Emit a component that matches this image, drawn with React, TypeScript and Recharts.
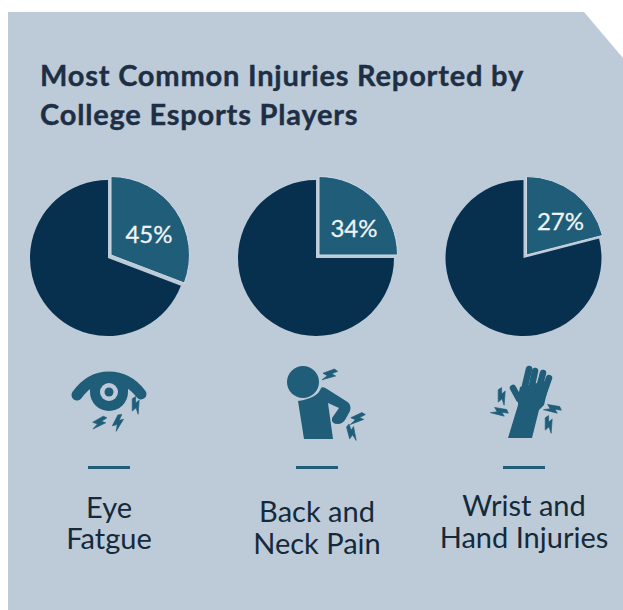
import { PieChart, Pie, Cell } from "recharts";

const PANEL = "#bdcbd9";
const DARK = "#06304d";
const TEAL = "#205d79";
const TITLE = "#1e2f45";

// drawn wedge share of each pie (the printed labels don't match the drawn angle)
const wedgeShares = [30.8, 25, 21];
const percentLabels = ["45%", "34%", "27%"];
const categoryLines = [
  ["Eye", "Fatgue"],
  ["Back and", "Neck Pain"],
  ["Wrist and", "Hand Injuries"],
];

// layout
const pieCenters = [108, 316, 523.5];
const iconCenters = [109, 317, 524];
const wedgeShift = 3;
const labelOffsets = [
  [38, -22],
  [35, -28],
  [34, -35],
];
const categoryBaselines = [
  [518, 549],
  [522, 554],
  [516, 548],
];

const pieData = wedgeShares.map((w) => [
  { name: "wedge", value: w },
  { name: "rest", value: 100 - w },
]);

function Bolt({ x, y, rot, s = 1 }: { x: number; y: number; rot: number; s?: number }) {
  return (
    <polygon
      points="1,-8 -6,2 -1,1.5 -3,8 6,-3 1.5,-2.5 5,-8"
      fill={TEAL}
      stroke={TEAL}
      strokeWidth={0.6}
      transform={`translate(${x} ${y}) rotate(${rot}) scale(${s})`}
    />
  );
}

function EyeIcon() {
  return (
    <g>
      <path
        d="M77 395 Q90 377 109 377 Q128 377 141 394"
        fill="none"
        stroke={TEAL}
        strokeWidth={11}
        strokeLinecap="round"
      />
      <circle cx={109} cy={392} r={19} fill={TEAL} />
      <path d="M90 378 Q109 368 128 378 L128 392 L90 392 Z" fill={TEAL} />
      <circle cx={109} cy={392} r={9} fill={PANEL} />
      <circle cx={109} cy={392} r={4.5} fill={TEAL} />
      <Bolt x={136} y={406} rot={-35} />
      <Bolt x={99} y={423} rot={25} />
      <Bolt x={118} y={423} rot={-8} />
    </g>
  );
}

function BackIcon() {
  return (
    <g>
      <circle cx={303} cy={382} r={16} fill={TEAL} />
      <path
        d="M298 401 L304 439 L333 439 L328 403 L339 408 L332 418 Q331 424 338 424 Q342 424 345 420 L350 411 Q352 404 346 401 L327 389 Q323 386 321 388 Q318 398 298 401 Z"
        fill={TEAL}
      />
      <Bolt x={329} y={375} rot={35} />
      <Bolt x={357} y={419} rot={30} />
      <Bolt x={352} y={433} rot={-50} />
    </g>
  );
}

function HandIcon() {
  return (
    <g>
      <path
        d="M520 387 L550 380 L544 405 L539 410 L532 438 L508 438 L518 405 L518 397 Z"
        fill={TEAL}
      />
      <g stroke={TEAL} strokeWidth={6.5} strokeLinecap="round" fill="none">
        <line x1={524} y1={390} x2={529} y2={369} />
        <line x1={531} y1={390} x2={535} y2={371} />
        <line x1={538} y1={392} x2={543} y2={373} />
        <line x1={543} y1={395} x2={549} y2={378} />
        <line x1={519} y1={399} x2={513} y2={388} />
      </g>
      <Bolt x={502} y={397} rot={-35} />
      <Bolt x={499} y={412} rot={65} />
      <Bolt x={552} y={409} rot={65} />
      <Bolt x={549} y={425} rot={-35} />
    </g>
  );
}

function WedgeLabel(props: any) {
  const { cx, cy, index, chartIndex } = props;
  if (index !== 0) return null;
  return (
    <text
      x={cx + labelOffsets[chartIndex][0]}
      y={cy + labelOffsets[chartIndex][1]}
      fill="#eef3f6"
      stroke="#eef3f6"
      strokeWidth={0.3}
      fontSize={24}
      fontFamily="Lato"
      textAnchor="middle"
      dominantBaseline="central"
    >
      {percentLabels[chartIndex]}
    </text>
  );
}

export default function App() {
  return (
    <div style={{ position: "absolute", left: 0, top: 0, width: 623, height: 610, background: "#fff", overflow: "hidden" }}>
      <svg width={623} height={610} style={{ position: "absolute", left: 0, top: 0 }}>
        <polygon points="8,12 584,12 623,58 623,610 8,610" fill={PANEL} />
      </svg>

      <div style={{ position: "absolute", left: 0, top: 0 }}>
        <PieChart width={623} height={610} margin={{ top: 0, right: 0, bottom: 0, left: 0 }}>
          {pieData.map((data, i) => (
            <Pie
              key={`rest-${i}`}
              data={data}
              dataKey="value"
              cx={pieCenters[i]}
              cy={258}
              outerRadius={78}
              startAngle={90}
              endAngle={-270}
              stroke="none"
              isAnimationActive={false}
            >
              <Cell fill="none" stroke="none" />
              <Cell fill={DARK} stroke="none" />
            </Pie>
          ))}
          {pieData.map((data, i) => (
            <Pie
              key={`wedge-${i}`}
              data={data}
              dataKey="value"
              cx={pieCenters[i] + wedgeShift}
              cy={258 - wedgeShift}
              outerRadius={78.5}
              startAngle={90}
              endAngle={-270}
              stroke="none"
              isAnimationActive={false}
              labelLine={false}
              label={(p: any) => <WedgeLabel {...p} chartIndex={i} />}
            >
              <Cell fill={TEAL} stroke="#cfdae4" strokeWidth={1} />
              <Cell fill="none" stroke="none" />
            </Pie>
          ))}
        </PieChart>
      </div>

      <svg width={623} height={610} style={{ position: "absolute", left: 0, top: 0 }}>
        <text x={40} y={86} fontFamily="Lato" fontWeight={700} fontSize={29} letterSpacing={0.8} fill={TITLE} stroke={TITLE} strokeWidth={0.4}>
          Most Common Injuries Reported by
        </text>
        <text x={40} y={125} fontFamily="Lato" fontWeight={700} fontSize={29} letterSpacing={0.8} fill={TITLE} stroke={TITLE} strokeWidth={0.4}>
          College Esports Players
        </text>
        <EyeIcon />
        <BackIcon />
        <HandIcon />
        {iconCenters.map((c) => (
          <rect key={c} x={c - 21} y={466} width={42} height={3} fill={TEAL} />
        ))}
        {categoryLines.map((lines, i) =>
          lines.map((line, j) => (
            <text
              key={line}
              x={iconCenters[i]}
              y={categoryBaselines[i][j]}
              textAnchor="middle"
              fontFamily="Lato"
              fontSize={29}
              fill="#14293a"
            >
              {line}
            </text>
          ))
        )}
      </svg>
    </div>
  );
}
